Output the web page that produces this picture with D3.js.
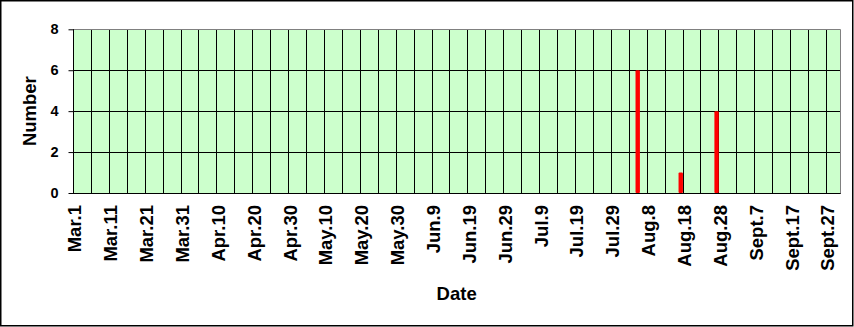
<!DOCTYPE html>
<html>
<head>
<meta charset="utf-8">
<script src="https://cdn.jsdelivr.net/npm/d3@7"></script>
<style>
  html, body { margin: 0; padding: 0; background: #fff; }
  svg { display: block; }
  text { font-family: "Liberation Sans", Arial, sans-serif; font-weight: bold; fill: #000; }
</style>
</head>
<body>
<svg id="chart" width="854" height="327"></svg>
<script>
// ---- data ----
const monthNames = ["Mar", "Apr", "May", "Jun", "Jul", "Aug", "Sept"];
const monthDays  = [31, 30, 31, 30, 31, 31, 30];
const tickLabels = ["Mar.1", "Mar.11", "Mar.21", "Mar.31", "Apr.10", "Apr.20", "Apr.30",
  "May.10", "May.20", "May.30", "Jun.9", "Jun.19", "Jun.29", "Jul.9", "Jul.19", "Jul.29",
  "Aug.8", "Aug.18", "Aug.28", "Sept.7", "Sept.17", "Sept.27"];
const eventDates  = ["Aug.5", "Aug.17", "Aug.27"];
const eventValues = [6, 1, 4];
const yTicks = [0, 2, 4, 6, 8];

// categories: every day Mar.1 .. Sept.30
const categories = monthNames.flatMap((m, i) => d3.range(1, monthDays[i] + 1).map(d => m + "." + d));
const series = eventDates.map((d, i) => ({ date: d, value: eventValues[i] }));

// ---- layout ----
const svg = d3.select("#chart");
const pL = 73, pR = 840.3, pT = 29.3, pB = 193;

const x = d3.scaleBand().domain(categories).range([pL, pR]).padding(0);
const y = d3.scaleLinear().domain([0, 8]).range([pB, pT]);
const bw = x.bandwidth();

// outer border
svg.append("rect").attr("x", 0.75).attr("y", 0.75).attr("width", 852).attr("height", 325)
  .attr("fill", "#fff").attr("stroke", "#000").attr("stroke-width", 1.5);

// plot background
svg.append("rect").attr("x", pL).attr("y", pT).attr("width", pR - pL).attr("height", pB - pT)
  .attr("fill", "#CCFFCC");

// vertical gridlines every 5 categories
const vIdx = d3.range(5, categories.length, 5);
svg.append("g").selectAll("line").data(vIdx).join("line")
  .attr("x1", i => Math.round(x(categories[i])) + 0.5)
  .attr("x2", i => Math.round(x(categories[i])) + 0.5)
  .attr("y1", pT).attr("y2", pB)
  .attr("stroke", "#000").attr("stroke-width", 1);

// horizontal gridlines
svg.append("g").selectAll("line").data(yTicks.filter(v => v > 0 && v < 8)).join("line")
  .attr("x1", pL).attr("x2", pR)
  .attr("y1", v => Math.round(y(v)) + 0.5).attr("y2", v => Math.round(y(v)) + 0.5)
  .attr("stroke", "#000").attr("stroke-width", 1);

// plot border top/right gray
svg.append("path")
  .attr("d", `M${pL},${Math.round(pT) + 0.5}H${Math.round(pR) + 0.5}V${pB}`)
  .attr("fill", "none").attr("stroke", "#808080").attr("stroke-width", 1);

// bars
svg.append("g").selectAll("rect").data(series).join("rect")
  .attr("x", d => x(d.date) + bw / 2 - 2.2)
  .attr("width", 4.4)
  .attr("y", d => y(d.value))
  .attr("height", d => y(0) - y(d.value))
  .attr("rx", 1)
  .attr("fill", "#FF0000");

// y axis
const yAxis = d3.axisLeft(y).tickValues(yTicks).tickSize(5).tickPadding(10).tickFormat(d3.format("d"));
const gy = svg.append("g").attr("transform", `translate(${pL + 0.5},0)`).call(yAxis);
gy.select(".domain").attr("stroke", "#000").attr("d", `M0,${pT}V${pB}`);
gy.selectAll(".tick line").attr("stroke", "#000");
gy.selectAll(".tick text").attr("font-size", 14.5).attr("font-family", "Liberation Sans, Arial, sans-serif")
  .attr("font-weight", "bold").attr("fill", "#000");

// x axis line
svg.append("line").attr("x1", pL).attr("x2", pR + 0.5)
  .attr("y1", Math.round(pB) + 0.5).attr("y2", Math.round(pB) + 0.5)
  .attr("stroke", "#000").attr("stroke-width", 1);

// x tick labels
svg.append("g").selectAll("text").data(tickLabels).join("text")
  .attr("transform", d => `translate(${x(d) + bw / 2},205) rotate(-90)`)
  .attr("text-anchor", "end")
  .attr("dy", "0.36em")
  .attr("font-size", 18.5)
  .text(d => d);

// axis titles
svg.append("text").attr("x", (pL + pR) / 2).attr("y", 300)
  .attr("text-anchor", "middle").attr("font-size", 18.5).text("Date");
svg.append("text").attr("transform", `translate(35.7,${(pT + pB) / 2}) rotate(-90)`)
  .attr("text-anchor", "middle").attr("font-size", 18.5).text("Number");
</script>
</body>
</html>
